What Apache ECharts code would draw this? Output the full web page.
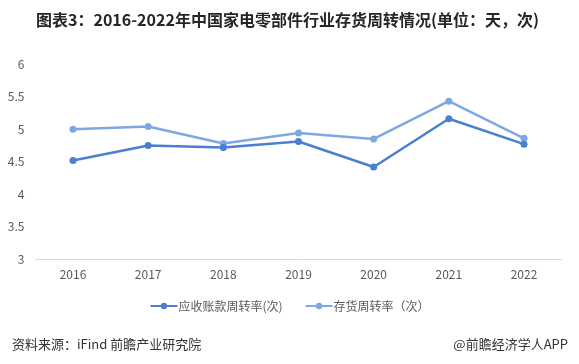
<!DOCTYPE html>
<html><head><meta charset="utf-8">
<script src="https://cdn.jsdelivr.net/npm/echarts@6/dist/echarts.min.js"></script>
<style>html,body{margin:0;padding:0;background:#fff}#c{width:579px;height:364px}</style>
</head><body><div id="c"></div>
<script>
const categories = ['2016','2017','2018','2019','2020','2021','2022'];
const receivableTurnover = [4.52, 4.75, 4.72, 4.81, 4.42, 5.16, 4.77];
const inventoryTurnover = [5.00, 5.04, 4.78, 4.94, 4.85, 5.43, 4.86];
const yTicks = [3, 3.5, 4, 4.5, 5, 5.5, 6];
const seriesNames = ['应收账款周转率(次)', '存货周转率（次）'];
const titleText = '图表3：2016-2022年中国家电零部件行业存货周转情况(单位：天，次)';
const sourceText = '资料来源：iFind 前瞻产业研究院';
const brandText = '@前瞻经济学人APP';

const FONT = '"Noto Sans CJK SC", "Noto Sans", sans-serif';
const chart = echarts.init(document.getElementById('c'));
chart.setOption({
  backgroundColor: '#fff',
  animation: false,
  textStyle: { fontFamily: FONT },
  title: [
    { text: titleText, left: 31, top: 7, textStyle: { fontSize: 16, fontWeight: 'bold', color: '#262626', fontFamily: FONT } },
    { text: sourceText, left: 7, top: 333, textStyle: { fontSize: 13, fontWeight: 'normal', color: '#333', fontFamily: FONT } },
    { text: brandText, right: 6, top: 333, textStyle: { fontSize: 13, fontWeight: 'normal', color: '#333', fontFamily: FONT } }
  ],
  grid: { left: 35.4, right: 17.4, top: 64, bottom: 104.5, containLabel: false },
  legend: {
    data: seriesNames,
    top: 295,
    left: 'center',
    itemWidth: 27,
    itemHeight: 8,
    itemGap: 22,
    textStyle: { fontSize: 12, color: '#595959', fontFamily: FONT, padding: [0,0,0,-4] }
  },
  xAxis: {
    type: 'category',
    data: categories,
    boundaryGap: true,
    axisLine: { lineStyle: { color: '#d9d9d9', width: 1 } },
    axisTick: { show: false },
    axisLabel: { color: '#595959', fontSize: 12, margin: 9 }
  },
  yAxis: {
    type: 'value',
    min: yTicks[0],
    max: yTicks[yTicks.length - 1],
    interval: 0.5,
    axisLine: { show: false },
    axisTick: { show: false },
    splitLine: { show: false },
    axisLabel: { color: '#595959', fontSize: 12, margin: 11, formatter: v => String(v) }
  },
  series: [
    {
      name: seriesNames[0], type: 'line', data: receivableTurnover,
      symbol: 'circle', symbolSize: 7,
      lineStyle: { color: '#4a7fd2', width: 2.5 },
      itemStyle: { color: '#4a7fd2' },
      z: 3
    },
    {
      name: seriesNames[1], type: 'line', data: inventoryTurnover,
      symbol: 'circle', symbolSize: 7,
      lineStyle: { color: '#7ea8e3', width: 2.5 },
      itemStyle: { color: '#7ea8e3' },
      z: 2
    }
  ]
});
</script></body></html>
